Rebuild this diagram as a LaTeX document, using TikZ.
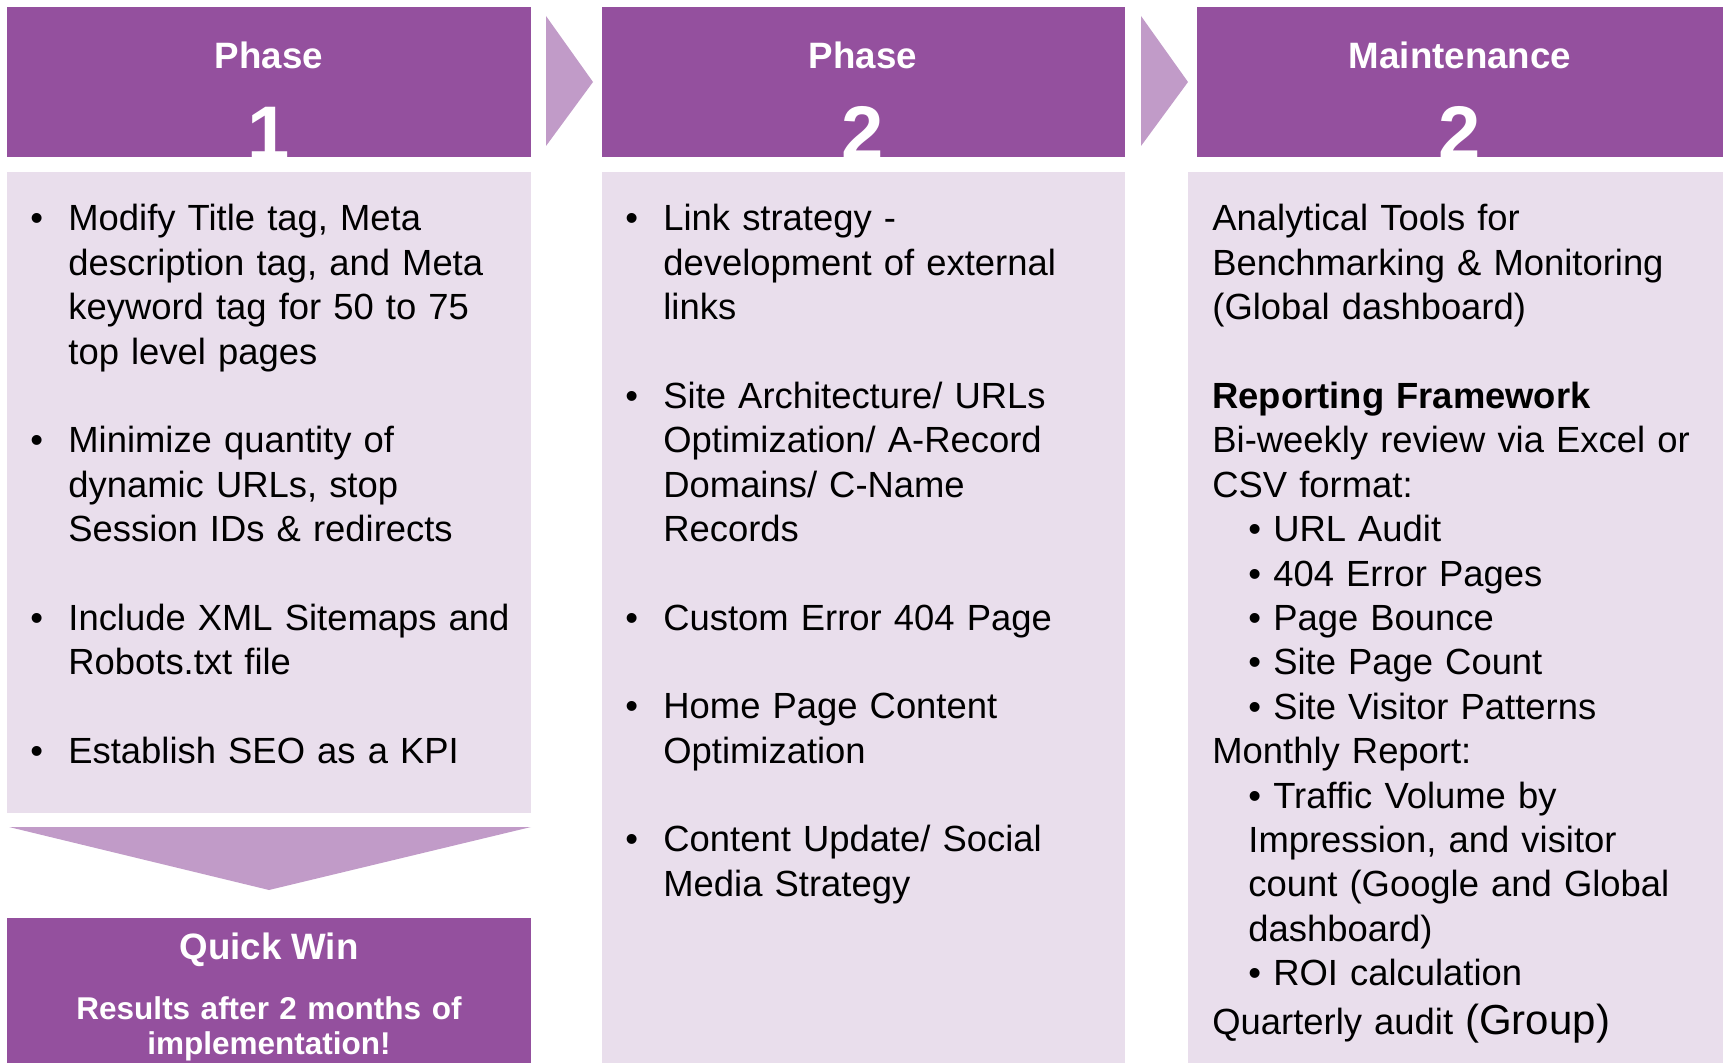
\documentclass[tikz,border=0pt]{standalone}
\usepackage{fontspec}
\setmainfont{Liberation Sans}
\usepackage{tikz}

\definecolor{phasepurple}{RGB}{148,80,158}
\definecolor{chevron}{RGB}{193,155,200}
\definecolor{panel}{RGB}{233,222,236}

\tikzset{
  body/.style={anchor=base west, inner sep=0pt, align=left, text width=280pt,
    font=\fontsize{18.2}{22.2}\selectfont},
  bul/.style={anchor=base west, inner sep=0pt, font=\fontsize{18.2}{22.2}\selectfont},
  headtxt/.style={anchor=base, inner sep=0pt, text=white,
    font=\bfseries\fontsize{18.35}{22}\selectfont},
  headnum/.style={anchor=base, inner sep=0pt, text=white,
    font=\bfseries\fontsize{38}{40}\selectfont},
}

\begin{document}
\begin{tikzpicture}[x=0.5pt, y=-0.5pt]
\useasboundingbox (0,0) rectangle (1723,1063);

% Header bars
\fill[phasepurple] (7,7) rectangle (531,157);
\fill[phasepurple] (602,7) rectangle (1125,157);
\fill[phasepurple] (1197,7) rectangle (1723,157);
\node[headtxt] (ph1) at (269,69) {Phase};
\node[headnum] (n1) at (269,160) {1};
\node[headtxt] (ph2) at (863,69) {Phase};
\node[headnum] (n2) at (863,160) {2};
\node[headtxt] (mt) at (1460,69) {Maintenance};
\node[headnum] (n3) at (1460,160) {2};

% Chevrons between phases
\fill[chevron] (546,16) -- (593,82) -- (546,146) -- cycle;
\fill[chevron] (1141,16) -- (1188,82) -- (1141,146) -- cycle;

% Panels
\fill[panel] (7,172) rectangle (531,813);
\fill[panel] (602,172) rectangle (1125,1063);
\fill[panel] (1188,172) rectangle (1723,1063);

% Phase 1 items
\node[bul] (b11) at (30,231) {•};
\node[body] (t11) at (68,231) {Modify Title tag, Meta\\description tag, and Meta\\keyword tag for 50 to 75\\top level pages};
\node[bul] (b12) at (30,452.75) {•};
\node[body] (t12) at (68,452.75) {Minimize quantity of\\dynamic URLs, stop\\Session IDs \& redirects};
\node[bul] (b13) at (30,630.2) {•};
\node[body] (t13) at (68,630.2) {Include XML Sitemaps and\\Robots.txt file};
\node[bul] (b14) at (30,763.2) {•};
\node[body] (t14) at (68,763.2) {Establish SEO as a KPI};

% Phase 2 items
\node[bul] (b21) at (625,231) {•};
\node[body] (t21) at (663,231) {Link strategy -\\development of external\\links};
\node[bul] (b22) at (625,408.4) {•};
\node[body] (t22) at (663,408.4) {Site Architecture/ URLs\\Optimization/ A-Record\\Domains/ C-Name\\Records};
\node[bul] (b23) at (625,630.2) {•};
\node[body] (t23) at (663,630.2) {Custom Error 404 Page};
\node[bul] (b24) at (625,718.9) {•};
\node[body] (t24) at (663,718.9) {Home Page Content\\Optimization};
\node[bul] (b25) at (625,851.9) {•};
\node[body] (t25) at (663,851.9) {Content Update/ Social\\Media Strategy};

% Maintenance
\node[body] (t31) at (1212,231) {Analytical Tools for\\
Benchmarking \& Monitoring\\
(Global dashboard)\\[22.2pt]
\textbf{Reporting Framework}\\
Bi-weekly review via Excel or\\
CSV format:\\
\hspace*{18pt}• URL Audit\\
\hspace*{18pt}• 404 Error Pages\\
\hspace*{18pt}• Page Bounce\\
\hspace*{18pt}• Site Page Count\\
\hspace*{18pt}• Site Visitor Patterns\\
Monthly Report:\\
\hspace*{18pt}• Traffic Volume by\\
\hspace*{18pt}Impression, and visitor\\
\hspace*{18pt}count (Google and Global\\
\hspace*{18pt}dashboard)\\
\hspace*{18pt}• ROI calculation\\[2pt]
Quarterly audit {\fontsize{21}{22}\selectfont(Group)}};

% Quick win
\fill[chevron] (9,827) -- (531,827) -- (269,890) -- cycle;
\fill[phasepurple] (7,918) rectangle (531,1063);
\node[headtxt] (qw) at (269,959) {Quick Win};
\node[anchor=base, inner sep=0pt, align=center, text width=250pt, text=white,
  font=\bfseries\fontsize{15.75}{17.5}\selectfont] (qwres) at (269,1019)
  {Results after 2 months of\\implementation!};
\end{tikzpicture}
\end{document}
